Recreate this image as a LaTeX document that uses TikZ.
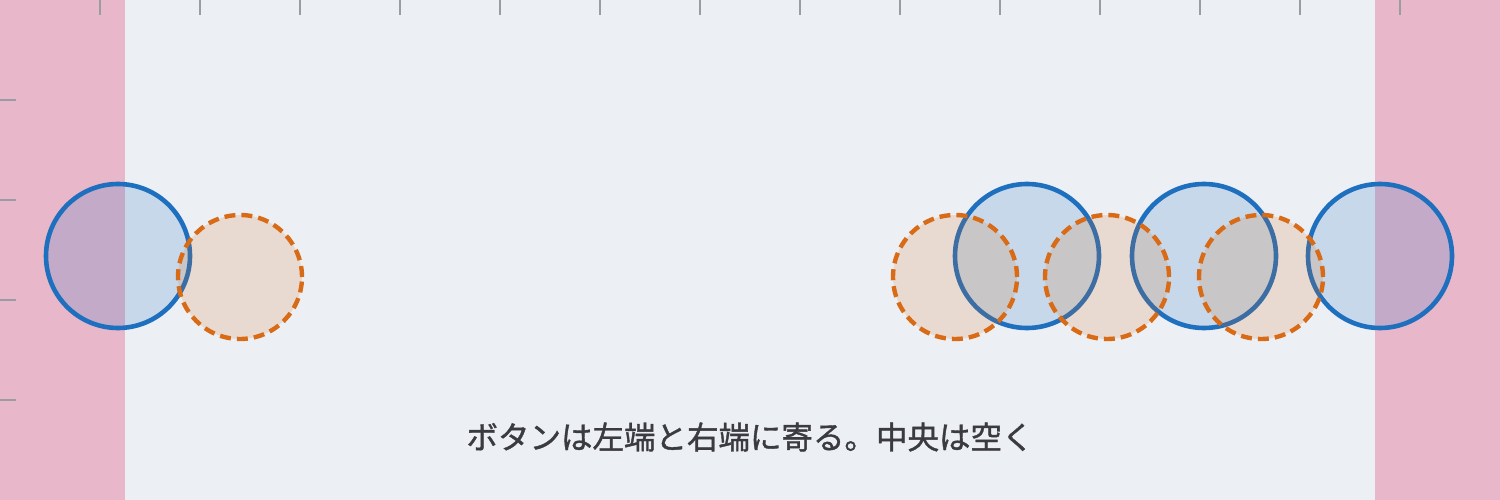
\documentclass[tikz,border=0pt]{standalone}
\usepackage{fontspec}
\newfontfamily\cjk{Noto Sans CJK JP}[FakeBold=1.2]
\definecolor{panelbg}{HTML}{ECF0F5}
\definecolor{edgepink}{HTML}{E8B8CA}
\definecolor{tickgray}{HTML}{9A9CA2}
\definecolor{btnblue}{HTML}{1F6FBF}
\definecolor{hitorange}{HTML}{D96B16}
\definecolor{captiongray}{HTML}{3A3A40}

\tikzset{
	tick/.style={draw=tickgray, line width=2pt},
	button/.style={circle, draw=btnblue, line width=4.6pt, fill=btnblue, fill opacity=0.18, draw opacity=1, minimum size=144pt, inner sep=0pt},
	hitzone/.style={circle, draw=hitorange, line width=4.4pt, dash pattern=on 11pt off 6pt, fill=hitorange, fill opacity=0.16, draw opacity=1, minimum size=124pt, inner sep=0pt},
	caption/.style={text=captiongray, font=\cjk\fontsize{31.5}{36}\selectfont, inner sep=0pt}
}

\begin{document}
\begin{tikzpicture}[x=1pt, y=-1pt]
	% Panel and the two edge bands
	\fill[panelbg] (0,0) rectangle (1500,500);
	\useasboundingbox (0,0) rectangle (1500,500);
	\fill[edgepink] (0,0) rectangle (125,500);
	\fill[edgepink] (1375,0) rectangle (1500,500);
	
	% Ruler ticks
	\foreach \x in {100,200,...,1400} {
		\draw[tick] (\x,0) -- (\x,15);
	}
	\foreach \y in {100,200,300,400} {
		\draw[tick] (0,\y) -- (16,\y);
	}
	
	% Buttons
	\foreach \name/\x in {b1/118, b2/1027, b3/1204, b4/1380} {
		\node[button] (\name) at (\x,256) {};
	}
	
	% Touch areas
	\foreach \name/\x in {t1/240, t2/955, t3/1107, t4/1261} {
		\node[hitzone] (\name) at (\x,277) {};
	}
	
	\node[caption] (note) at (750,437) {ボタンは左端と右端に寄る。中央は空く};
\end{tikzpicture}
\end{document}
